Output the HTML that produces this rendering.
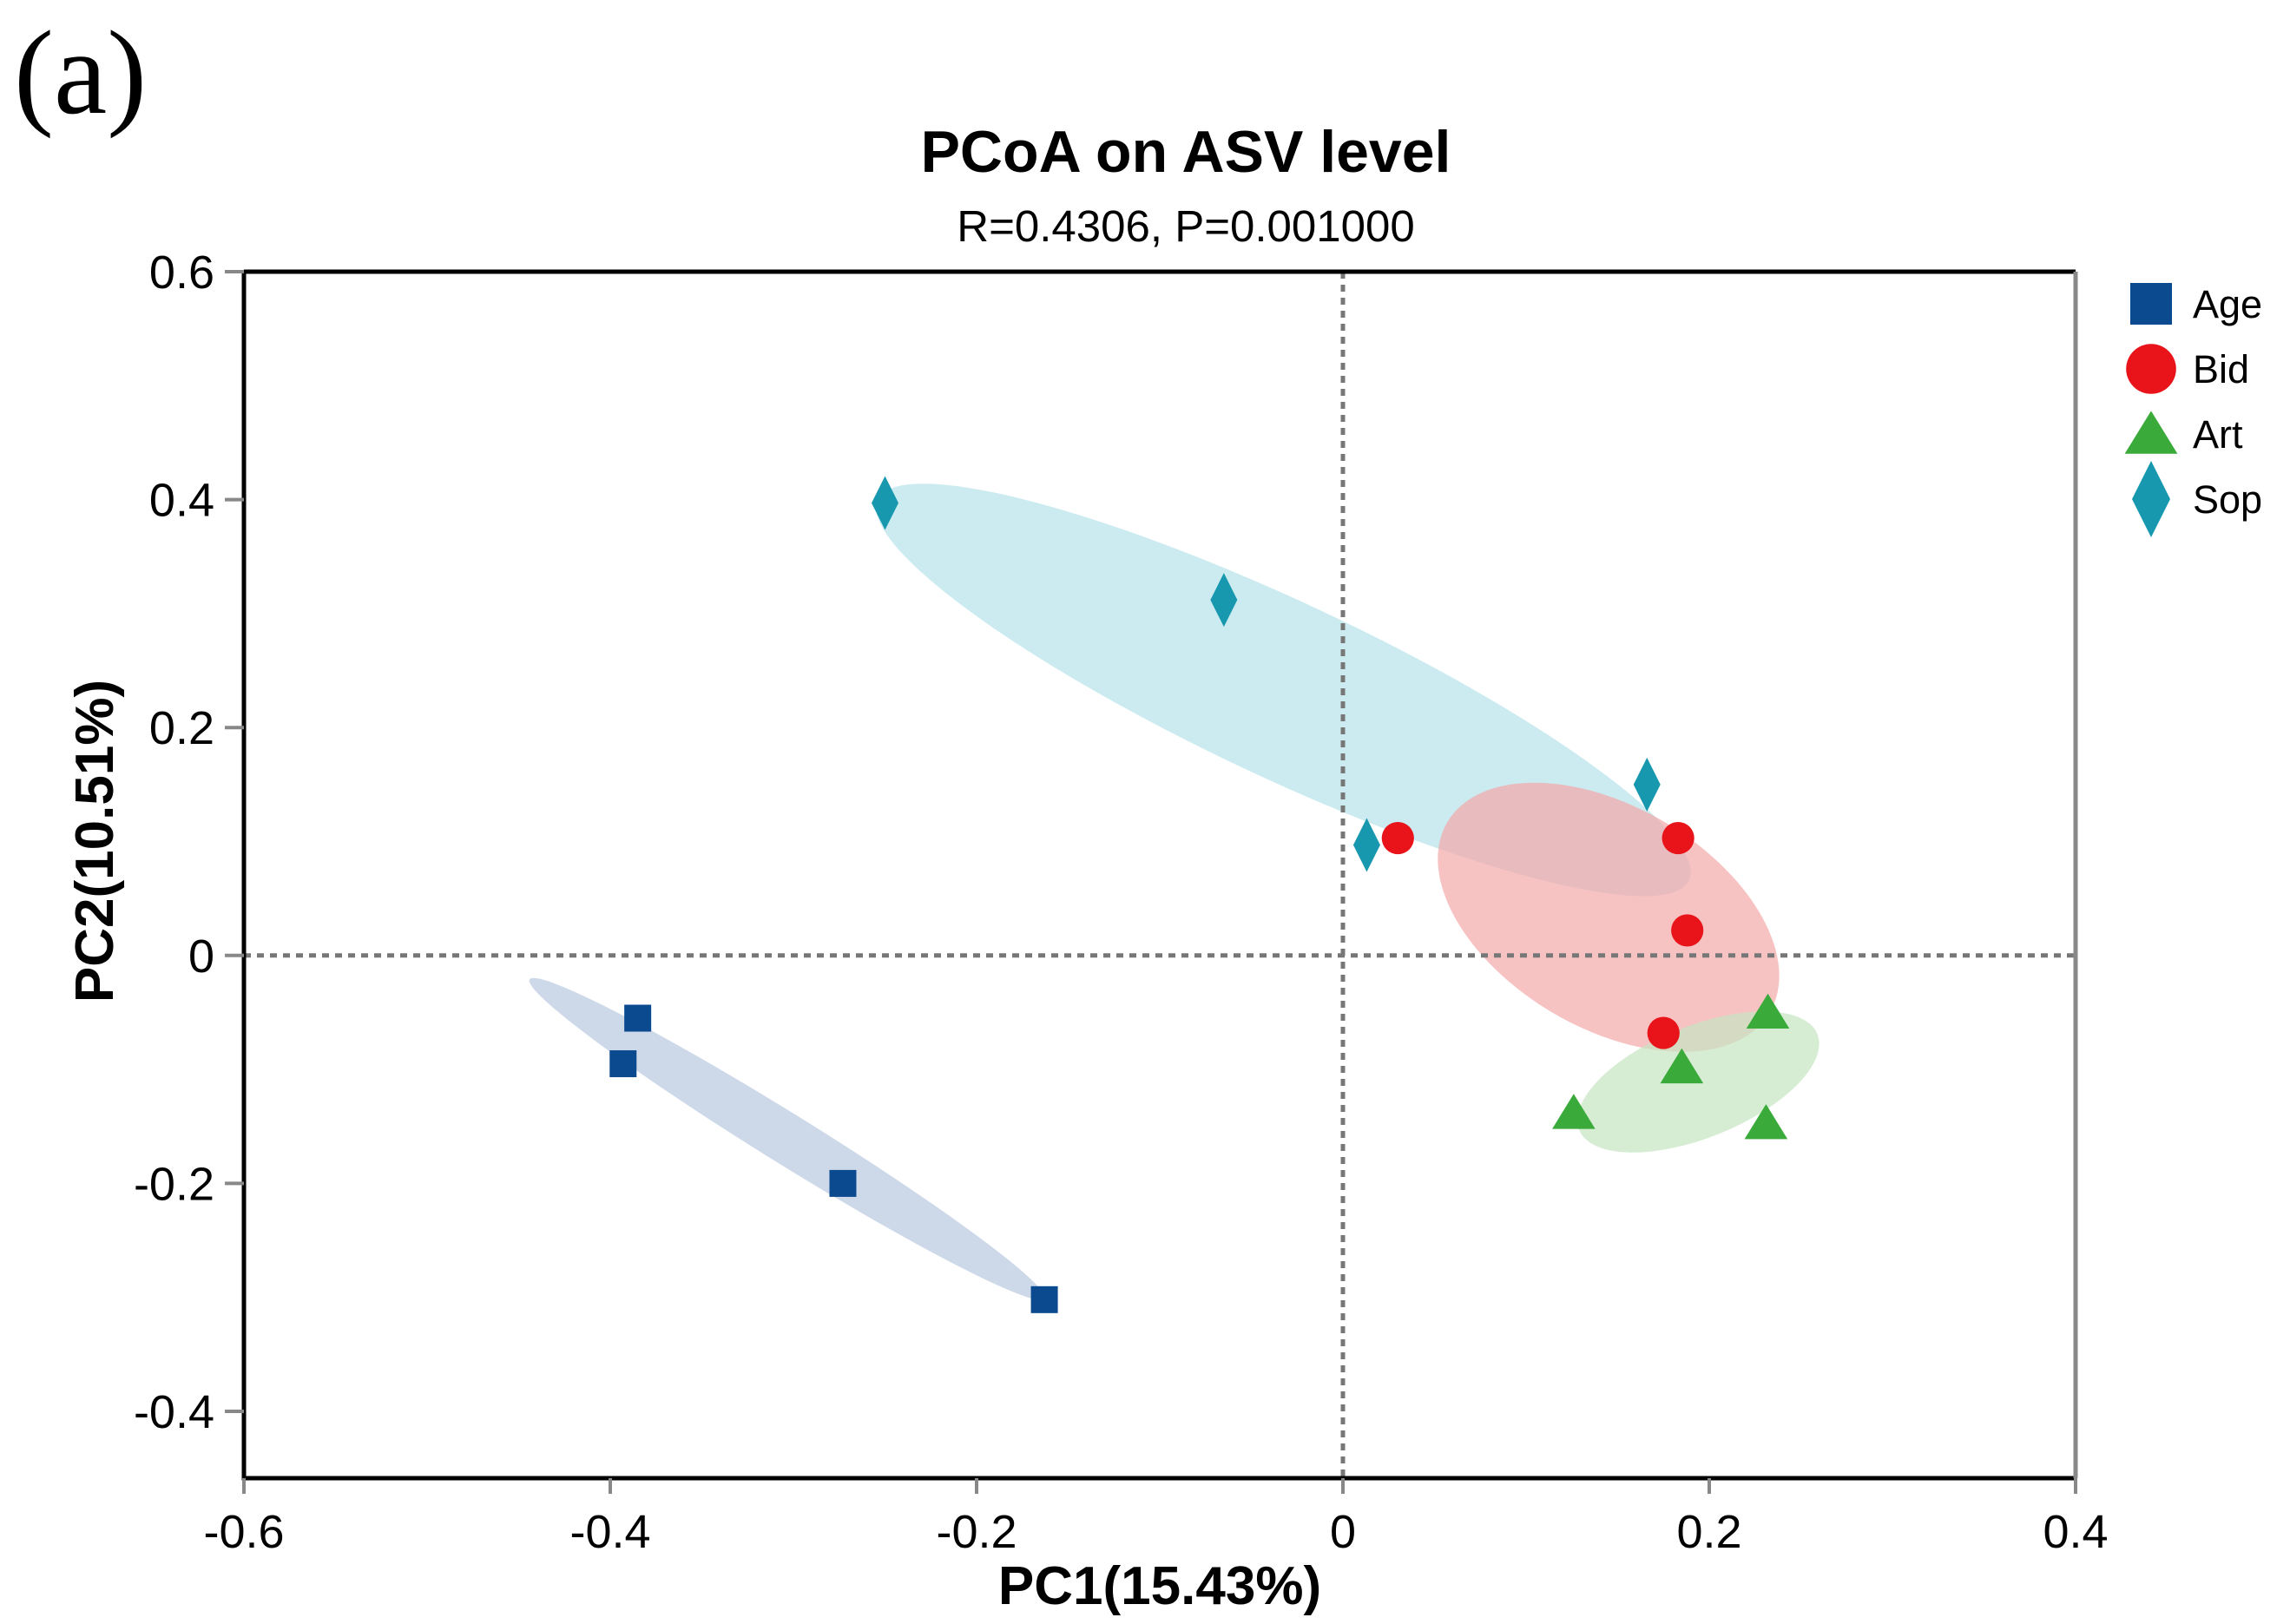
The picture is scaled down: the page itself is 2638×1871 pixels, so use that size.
<!DOCTYPE html>
<html><head><meta charset="utf-8"><style>
html,body{margin:0;padding:0;background:#fff}
svg{display:block;font-family:"Liberation Sans",Arial,sans-serif}
</style></head><body>
<svg id="chart" width="2638" height="1871" viewBox="0 0 2638 1871" xmlns="http://www.w3.org/2000/svg">
<text x="16" y="130" font-family="Liberation Serif,serif" font-size="138">(a)</text>
<text x="1366" y="198" text-anchor="middle" font-weight="bold" font-size="68">PCoA on ASV level</text>
<text x="1366" y="278" text-anchor="middle" font-size="51">R=0.4306, P=0.001000</text>
<g id="ellipses"></g>
<g id="grid"></g>
<g id="points"></g>
<g id="axes"></g>
<g id="legend"></g>
<text x="1336" y="1848" text-anchor="middle" font-weight="bold" font-size="62">PC1(15.43%)</text>
<text transform="translate(130,969) rotate(-90)" text-anchor="middle" font-weight="bold" font-size="62">PC2(10.51%)</text>
</svg>
<script>
const groups = ['Age','Bid','Art','Sop'];
const ageX = [-0.385,-0.393,-0.273,-0.163];
const ageY = [-0.055,-0.095,-0.200,-0.302];
const bidX = [0.030,0.183,0.188,0.175];
const bidY = [0.103,0.103,0.022,-0.068];
const artX = [0.232,0.185,0.126,0.231];
const artY = [-0.050,-0.098,-0.138,-0.147];
const sopX = [-0.250,-0.065,0.166,0.013];
const sopY = [0.397,0.312,0.150,0.097];
// ellipse major-axis tips [x1,y1,x2,y2] in data units, and minor radius in data-y units
const ageEll = [-0.444,-0.021,-0.163,-0.301, 0.022];
const bidEll = [0.057,0.117,0.233,-0.050, 0.097];
const artEll = [0.129,-0.153,0.259,-0.069, 0.049];
const sopEll = [-0.254,0.400,0.189,0.066, 0.077];
const xTicks = [-0.6,-0.4,-0.2,0,0.2,0.4];
const xTickLabels = ['-0.6','-0.4','-0.2','0','0.2','0.4'];
const yTicks = [-0.4,-0.2,0,0.2,0.4,0.6];
const yTickLabels = ['-0.4','-0.2','0','0.2','0.4','0.6'];

const NS='http://www.w3.org/2000/svg';
const L=281,R=2391,T=313,B=1703;
const xMin=-0.6,xMax=0.4,yMax=0.6,yMin=0.6-(B-T)/1313;
const sx=v=>L+(v-xMin)/(xMax-xMin)*(R-L);
const sy=v=>T+(yMax-v)/(yMax-yMin)*(B-T);
function mk(tag,parent,attrs){const e=document.createElementNS(NS,tag);for(const k in attrs)e.setAttribute(k,attrs[k]);parent.appendChild(e);return e;}

const cols={Age:'#0b4a8f',Bid:'#e8141a',Art:'#3aaa3a',Sop:'#1798ae'};
const fills={Age:'#b8c8e0',Bid:'#f4a8a8',Art:'#c4e6c2',Sop:'#b5e2ea'};

const eg=document.getElementById('ellipses');
[['Age',ageEll],['Sop',sopEll],['Bid',bidEll],['Art',artEll]].forEach(([g,e])=>{
  const x1=sx(e[0]),y1=sy(e[1]),x2=sx(e[2]),y2=sy(e[3]);
  const cx=(x1+x2)/2,cy=(y1+y2)/2,rx=Math.hypot(x2-x1,y2-y1)/2;
  const ry=e[4]*1313;
  const ang=Math.atan2(y2-y1,x2-x1)*180/Math.PI;
  const el=mk('ellipse',eg,{cx:cx,cy:cy,rx:rx,ry:ry,fill:fills[g],'fill-opacity':0.7,transform:`rotate(${ang} ${cx} ${cy})`});
  
  
});

const gg=document.getElementById('grid');
let l1=mk('line',gg,{x1:L,x2:R,y1:sy(0),y2:sy(0),stroke:'#777','stroke-width':5,'stroke-dasharray':'8,7'});


let l2=mk('line',gg,{x1:sx(0),x2:sx(0),y1:T,y2:B,stroke:'#777','stroke-width':5,'stroke-dasharray':'8,7'});



function marker(g,parent,x,y,s){
  let e;
  if(g==='Age') e=mk('rect',parent,{x:x-s*0.5,y:y-s*0.5,width:s,height:s,fill:cols[g]});
  else if(g==='Bid') e=mk('circle',parent,{cx:x,cy:y,r:s*0.6,fill:cols[g]});
  else if(g==='Art') e=mk('polygon',parent,{points:`${x},${y-s*0.7} ${x+s*0.8},${y+s*0.6} ${x-s*0.8},${y+s*0.6}`,fill:cols[g]});
  else e=mk('polygon',parent,{points:`${x},${y-s*1.0} ${x+s*0.5},${y} ${x},${y+s*1.0} ${x-s*0.5},${y}`,fill:cols[g]});
  return e;
}
const pg=document.getElementById('points');
[['Age',ageX,ageY],['Bid',bidX,bidY],['Art',artX,artY],['Sop',sopX,sopY]].forEach(([g,xs,ys])=>{
  xs.forEach((v,i)=>{
    const e=marker(g,pg,sx(v),sy(ys[i]),31);
    
    
  });
});

const ag=document.getElementById('axes');
let a1=mk('path',ag,{d:`M${L},${T} H${R} M${L},${T} V${B} H${R}`,stroke:'#000','stroke-width':5,fill:'none'});


let a2=mk('line',ag,{x1:R,x2:R,y1:T,y2:B,stroke:'#888','stroke-width':5});


yTicks.forEach((v,i)=>{
  const t=mk('line',ag,{x1:L-22,x2:L,y1:sy(v),y2:sy(v),stroke:'#888','stroke-width':4});
  
  
  const tx=mk('text',ag,{x:L-34,y:sy(v)+19,'text-anchor':'end','font-size':54});
  tx.textContent=yTickLabels[i];
  
  
});
xTicks.forEach((v,i)=>{
  const t=mk('line',ag,{x1:sx(v),x2:sx(v),y1:B,y2:B+18,stroke:'#888','stroke-width':4});
  
  
  const tx=mk('text',ag,{x:sx(v),y:B+80,'text-anchor':'middle','font-size':54});
  tx.textContent=xTickLabels[i];
  
  
});

const lg=document.getElementById('legend');
groups.forEach((g,i)=>{
  const y=350+i*75;
  const m=marker(g,lg,2478,y,g==='Art'?38:(g==='Sop'?44:48));
  
  
  const t=mk('text',lg,{x:2526,y:y+16,'font-size':45});
  t.textContent=g;
  
  
});
</script>
</body></html>
